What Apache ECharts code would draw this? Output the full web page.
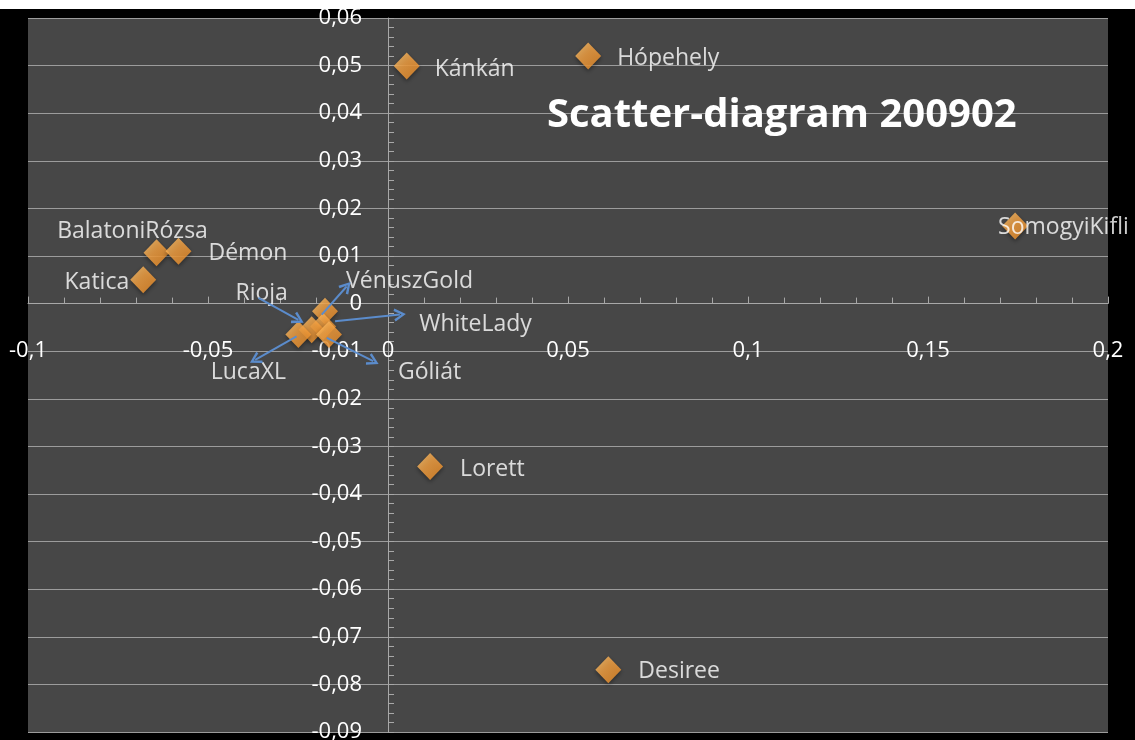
<!DOCTYPE html>
<html>
<head>
<meta charset="utf-8">
<title>Scatter-diagram 200902</title>
<script src="https://cdn.jsdelivr.net/npm/echarts@6/dist/echarts.min.js"></script>
<style>
  html, body { margin: 0; padding: 0; background: #000; }
  #chart { width: 1135px; height: 740px; }
</style>
</head>
<body>
<div id="chart"></div>
<script>
// Product names and their (x, y) positions
const names = ['Kánkán', 'Hópehely', 'SomogyiKifli', 'BalatoniRózsa', 'Démon', 'Katica',
               'Lorett', 'Desiree', 'VénuszGold', 'WhiteLady', 'Rioja', 'LucaXL', 'Góliát'];
const xValues = [0.0052, 0.0556, 0.1742, -0.0643, -0.0582, -0.0680,
                 0.0117, 0.0612, -0.0175, -0.0180, -0.0212, -0.0249, -0.0164];
const yValues = [0.0499, 0.0520, 0.0163, 0.0107, 0.0110, 0.0050,
                 -0.0342, -0.0769, -0.0016, -0.0048, -0.0055, -0.0065, -0.0065];

// Callout arrows for the crowded cluster: [fromX, fromY, toX, toY]
const arrows = [
  [-0.0360, 0.0012, -0.0249, -0.0034],   // Rioja
  [-0.0184, -0.0023, -0.0115, 0.0036],   // VénuszGold
  [-0.0147, -0.0037, 0.0033, -0.0023],   // WhiteLady
  [-0.0254, -0.0069, -0.0369, -0.0118],  // LucaXL
  [-0.0170, -0.0072, -0.0041, -0.0121]   // Góliát
];

const chartTitle = 'Scatter-diagram 200902';

// Label placement for each name (relative to its marker)
const labelPlacement = {
  'Kánkán':        { align: 'left',   offset: [28, 3] },
  'Hópehely':      { align: 'left',   offset: [29, 2] },
  'SomogyiKifli':  { align: 'left',   offset: [-17, 1] },
  'BalatoniRózsa': { align: 'center', offset: [-24, -21] },
  'Démon':         { align: 'left',   offset: [30, 2] },
  'Katica':        { align: 'right',  offset: [-14, 3] },
  'Lorett':        { align: 'left',   offset: [30, 3] },
  'Desiree':       { align: 'left',   offset: [30, 2] },
  'VénuszGold':    { align: 'left',   offset: [21, -30] },
  'WhiteLady':     { align: 'left',   offset: [96, -2] },
  'Rioja':         { align: 'center', offset: [-50, -36] },
  'LucaXL':        { align: 'center', offset: [-50, 38] },
  'Góliát':        { align: 'left',   offset: [69, 38] }
};

const FONT = '"Open Sans", "DejaVu Sans", sans-serif';
const fmt = v => String(Math.round(v * 100) / 100).replace('.', ',');

const points = names.map((n, i) => ({
  name: n,
  value: [xValues[i], yValues[i]],
  label: {
    show: true,
    position: 'inside',
    align: labelPlacement[n].align,
    offset: labelPlacement[n].offset,
    formatter: '{b}'
  }
}));

// Open chevron arrow head, tip pointing up (rotated along the line by ECharts)
const chevron = 'path://M0,10 L5,0 L10,10 L8.2,11 L5,4 L1.8,11 Z';

const axisGray = '#a8a8a8';

const chart = echarts.init(document.getElementById('chart'), null, { renderer: 'canvas' });

chart.setOption({
  animation: false,
  backgroundColor: '#000',
  textStyle: { fontFamily: FONT },
  graphic: [
    { type: 'rect', left: 0, top: 0, shape: { width: 1135, height: 9 }, style: { fill: '#fff' }, z: 100 }
  ],
  title: {
    text: chartTitle,
    left: 547,
    top: 96,
    padding: 0,
    textStyle: { color: '#fff', fontFamily: FONT, fontWeight: 'bold', fontSize: 40 }
  },
  grid: {
    left: 28, right: 27, top: 18, bottom: 8,
    show: true, backgroundColor: '#474747', borderWidth: 0,
    outerBoundsMode: 'none'
  },
  xAxis: {
    type: 'value',
    position: 'bottom',
    min: -0.1, max: 0.2, interval: 0.05,
    axisLine: { onZero: false, lineStyle: { color: axisGray, width: 1 } },
    axisTick: { show: true, inside: true, length: 7, lineStyle: { color: axisGray } },
    minorTick: { show: true, splitNumber: 5, length: 6, lineStyle: { color: axisGray } },
    axisLabel: { color: '#fff', fontSize: 22, margin: 36, formatter: fmt, fontFamily: FONT },
    splitLine: { show: false }
  },
  yAxis: {
    type: 'value',
    position: 'left',
    min: -0.09, max: 0.06, interval: 0.01,
    axisLine: { onZero: false, lineStyle: { color: axisGray, width: 1 } },
    axisTick: { show: true, inside: true, length: 6, lineStyle: { color: axisGray } },
    minorTick: { show: true, splitNumber: 5, length: 6, lineStyle: { color: axisGray } },
    axisLabel: { color: '#fff', fontSize: 22, margin: 26, formatter: fmt, fontFamily: FONT },
    splitLine: { show: true, lineStyle: { color: '#9c9c9c', width: 1 } }
  },
  series: [{
    type: 'scatter',
    data: points,
    symbol: 'diamond',
    symbolSize: [26, 27],
    itemStyle: {
      color: new echarts.graphic.LinearGradient(0, 0, 1, 1, [
        { offset: 0, color: '#ffc873' },
        { offset: 0.45, color: '#fca542' },
        { offset: 1, color: '#ea8a24' }
      ]),
      shadowBlur: 4, shadowColor: 'rgba(0,0,0,0.5)', shadowOffsetY: 2
    },
    label: { color: '#fff', fontSize: 23, fontFamily: FONT },
    markLine: {
      silent: true,
      symbol: ['none', chevron],
      symbolSize: [13, 12],
      label: { show: false },
      lineStyle: { color: '#5b8ccc', width: 2, type: 'solid' },
      data: arrows.map(a => [{ coord: [a[0], a[1]] }, { coord: [a[2], a[3]] }])
    }
  }]
});

// Move both axes (line, ticks and labels) so they cross at the origin
const grid = chart.getModel().getComponent('grid', 0).coordinateSystem.getRect();
const origin = chart.convertToPixel({ gridIndex: 0 }, [0, 0]);
chart.setOption({
  xAxis: { offset: -(grid.y + grid.height - origin[1]) },
  yAxis: { offset: -(origin[0] - grid.x) }
});
</script>
</body>
</html>
